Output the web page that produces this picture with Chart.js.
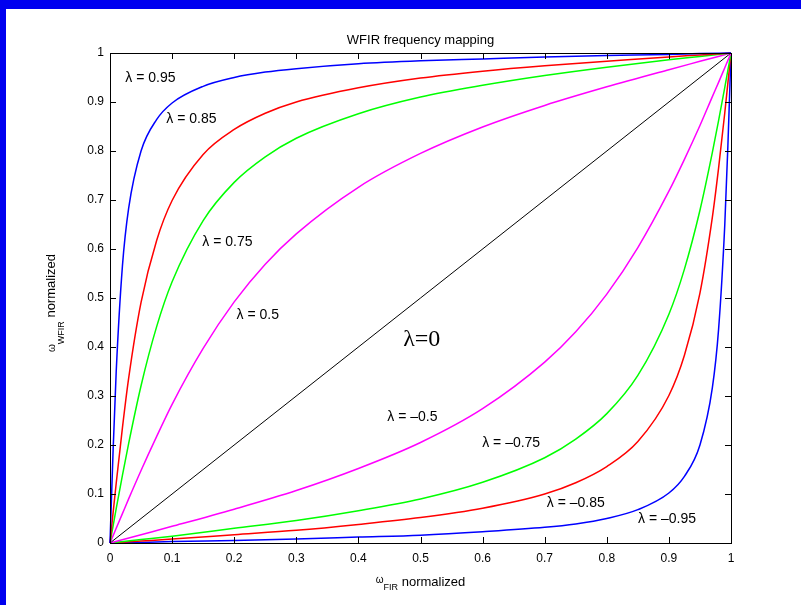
<!DOCTYPE html>
<html>
<head>
<meta charset="utf-8">
<title>WFIR frequency mapping</title>
<script src="https://cdn.jsdelivr.net/npm/chart.js@4/dist/chart.umd.min.js"></script>
<style>
  html, body { margin: 0; padding: 0; }
  body { width: 801px; height: 605px; background: #0000f0; position: relative; overflow: hidden; }
  #wrap { position: absolute; left: 6px; top: 9px; width: 795px; height: 596px; background: #fff; }
  canvas { display: block; }
</style>
</head>
<body>
<div id="wrap"><canvas id="chart" width="795" height="596"></canvas></div>
<script>
// x positions for the positive-lambda curves (dense near 0) and negative ones (dense near 1)
const xPos = [0, 0.005, 0.01, 0.02, 0.03, 0.05, 0.075, 0.1, 0.15, 0.2, 0.25, 0.3, 0.4, 0.5, 0.6, 0.7, 0.8, 0.9, 0.95, 1];
const xNeg = [0, 0.05, 0.1, 0.2, 0.3, 0.4, 0.5, 0.6, 0.7, 0.75, 0.8, 0.85, 0.9, 0.925, 0.95, 0.97, 0.98, 0.99, 0.995, 1];

// warped frequency values
const lam095 = [0, 0.189, 0.350, 0.565, 0.683, 0.800, 0.864, 0.898, 0.932, 0.950, 0.961, 0.968, 0.978, 0.984, 0.988, 0.992, 0.995, 0.997, 0.999, 1];
const lam085 = [0, 0.062, 0.122, 0.235, 0.336, 0.491, 0.617, 0.699, 0.793, 0.844, 0.877, 0.900, 0.929, 0.949, 0.963, 0.974, 0.983, 0.992, 0.996, 1];
const lam075 = [0, 0.035, 0.070, 0.138, 0.203, 0.321, 0.441, 0.533, 0.658, 0.736, 0.788, 0.826, 0.876, 0.910, 0.934, 0.954, 0.971, 0.986, 0.993, 1];
const lam050 = [0, 0.015, 0.030, 0.060, 0.090, 0.148, 0.217, 0.283, 0.397, 0.492, 0.569, 0.631, 0.726, 0.795, 0.849, 0.893, 0.931, 0.966, 0.983, 1];
const lamN050 = [0, 0.017, 0.034, 0.069, 0.107, 0.152, 0.205, 0.274, 0.369, 0.431, 0.508, 0.603, 0.718, 0.783, 0.852, 0.911, 0.940, 0.970, 0.985, 1];
const lamN075 = [0, 0.007, 0.014, 0.030, 0.046, 0.066, 0.090, 0.124, 0.174, 0.212, 0.264, 0.342, 0.467, 0.559, 0.679, 0.797, 0.862, 0.930, 0.965, 1];
const lamN085 = [0, 0.004, 0.008, 0.017, 0.026, 0.038, 0.052, 0.071, 0.100, 0.123, 0.156, 0.207, 0.301, 0.383, 0.510, 0.665, 0.765, 0.878, 0.939, 1];
const lamN095 = [0, 0.001, 0.003, 0.005, 0.008, 0.012, 0.016, 0.023, 0.032, 0.039, 0.050, 0.068, 0.102, 0.136, 0.200, 0.317, 0.436, 0.650, 0.811, 1];
const diagX = [0, 1];
const diagY = [0, 1];

const tickValues = [0, 0.1, 0.2, 0.3, 0.4, 0.5, 0.6, 0.7, 0.8, 0.9, 1];
const tickLabels = ['0', '0.1', '0.2', '0.3', '0.4', '0.5', '0.6', '0.7', '0.8', '0.9', '1'];

// curve labels: text, x, y (data coords)
const noteTexts = ['λ = 0.95', 'λ = 0.85', 'λ = 0.75', 'λ = 0.5', 'λ = –0.5', 'λ = –0.75', 'λ = –0.85', 'λ = –0.95'];
const noteX = [0.065, 0.131, 0.189, 0.238, 0.487, 0.646, 0.750, 0.897];
const noteY = [0.949, 0.865, 0.614, 0.465, 0.257, 0.204, 0.082, 0.049];

function pts(xs, ys) {
    return xs.map((x, i) => ({ x: x, y: ys[i] }));
}

function curve(xs, ys, color, width) {
    return {
        data: pts(xs, ys),
        borderColor: color,
        borderWidth: width || 1.5,
        pointRadius: 0,
        fill: false,
        cubicInterpolationMode: 'monotone',
        clip: false
    };
}

// draw "ω sub rest" style label, centred on 0,0 in the current transform
function richLabel(ctx, parts) {
    let total = 0;
    parts.forEach(p => {
        ctx.font = p.size + 'px "Liberation Sans", Arial, sans-serif';
        p.w = ctx.measureText(p.t).width;
        total += p.w;
    });
    let x = -total / 2;
    ctx.textAlign = 'left';
    ctx.textBaseline = 'middle';
    parts.forEach(p => {
        ctx.font = p.size + 'px "Liberation Sans", Arial, sans-serif';
        ctx.fillText(p.t, x, p.dy);
        x += p.w;
    });
}

const frame = {
    id: 'frame',
    afterDatasetsDraw(chart) {
        const ctx = chart.ctx;
        const a = chart.chartArea;
        const sx = chart.scales.x, sy = chart.scales.y;
        ctx.save();
        ctx.strokeStyle = '#000';
        ctx.lineWidth = 1;
        ctx.strokeRect(a.left + 0.5, a.top + 0.5, a.right - a.left, a.bottom - a.top);
        ctx.beginPath();
        tickValues.forEach(v => {
            const px = Math.round(sx.getPixelForValue(v)) + 0.5;
            ctx.moveTo(px, a.bottom); ctx.lineTo(px, a.bottom - 6);
            ctx.moveTo(px, a.top); ctx.lineTo(px, a.top + 6);
            const py = Math.round(sy.getPixelForValue(v)) + 0.5;
            ctx.moveTo(a.left, py); ctx.lineTo(a.left + 6, py);
            ctx.moveTo(a.right, py); ctx.lineTo(a.right - 6, py);
        });
        ctx.stroke();
        ctx.restore();
    },
    afterDraw(chart) {
        const ctx = chart.ctx;
        const a = chart.chartArea;
        const sx = chart.scales.x, sy = chart.scales.y;
        ctx.save();
        ctx.fillStyle = '#000';

        // title
        ctx.font = '13px "Liberation Sans", Arial, sans-serif';
        ctx.textAlign = 'center';
        ctx.textBaseline = 'middle';
        ctx.fillText('WFIR frequency mapping', (a.left + a.right) / 2, 31);

        // curve annotations
        ctx.font = '14px "Liberation Sans", Arial, sans-serif';
        noteTexts.forEach((t, i) => {
            ctx.fillText(t, sx.getPixelForValue(noteX[i]), sy.getPixelForValue(noteY[i]));
        });
        ctx.font = '24px "Liberation Serif", "Times New Roman", serif';
        ctx.fillText('λ=0', sx.getPixelForValue(0.502), sy.getPixelForValue(0.414));

        // x axis title
        ctx.save();
        ctx.translate((a.left + a.right) / 2, 573);
        richLabel(ctx, [
            { t: 'ω', size: 10, dy: -2 },
            { t: 'FIR', size: 9, dy: 6 },
            { t: ' normalized', size: 13, dy: 0 }
        ]);
        ctx.restore();

        // y axis title
        ctx.save();
        ctx.translate(45, 294);
        ctx.rotate(-Math.PI / 2);
        richLabel(ctx, [
            { t: 'ω', size: 10, dy: 1 },
            { t: 'WFIR', size: 9, dy: 11 },
            { t: ' normalized', size: 13, dy: 0 }
        ]);
        ctx.restore();

        ctx.restore();
    }
};

const tickFont = { family: '"Liberation Sans", Arial, sans-serif', size: 12 };

new Chart(document.getElementById('chart').getContext('2d'), {
    type: 'line',
    data: {
        datasets: [
            curve(xPos, lam095, '#0000ff'),
            curve(xPos, lam085, '#ff0000'),
            curve(xPos, lam075, '#00ff00'),
            curve(xPos, lam050, '#ff00ff'),
            curve(diagX, diagY, '#000000', 1),
            curve(xNeg, lamN050, '#ff00ff'),
            curve(xNeg, lamN075, '#00ff00'),
            curve(xNeg, lamN085, '#ff0000'),
            curve(xNeg, lamN095, '#0000ff')
        ]
    },
    options: {
        responsive: false,
        animation: false,
        layout: { padding: { top: 44, right: 70, left: 0, bottom: 0 } },
        plugins: {
            legend: { display: false },
            title: { display: false },
            tooltip: { enabled: false }
        },
        scales: {
            x: {
                type: 'linear',
                min: 0,
                max: 1,
                grid: { display: false, drawTicks: false },
                border: { display: false },
                afterBuildTicks: s => { s.ticks = tickValues.map(v => ({ value: v })); },
                afterFit: s => { s.height = 62; },
                ticks: {
                    color: '#000',
                    font: tickFont,
                    padding: 8,
                    maxRotation: 0,
                    callback: (v, i) => tickLabels[i]
                }
            },
            y: {
                type: 'linear',
                min: 0,
                max: 1,
                grid: { display: false, drawTicks: false },
                border: { display: false },
                afterBuildTicks: s => { s.ticks = tickValues.map(v => ({ value: v })); },
                afterFit: s => { s.width = 104; },
                ticks: {
                    color: '#000',
                    font: tickFont,
                    padding: 6,
                    callback: (v, i) => tickLabels[i]
                }
            }
        }
    },
    plugins: [frame]
});
</script>
</body>
</html>
